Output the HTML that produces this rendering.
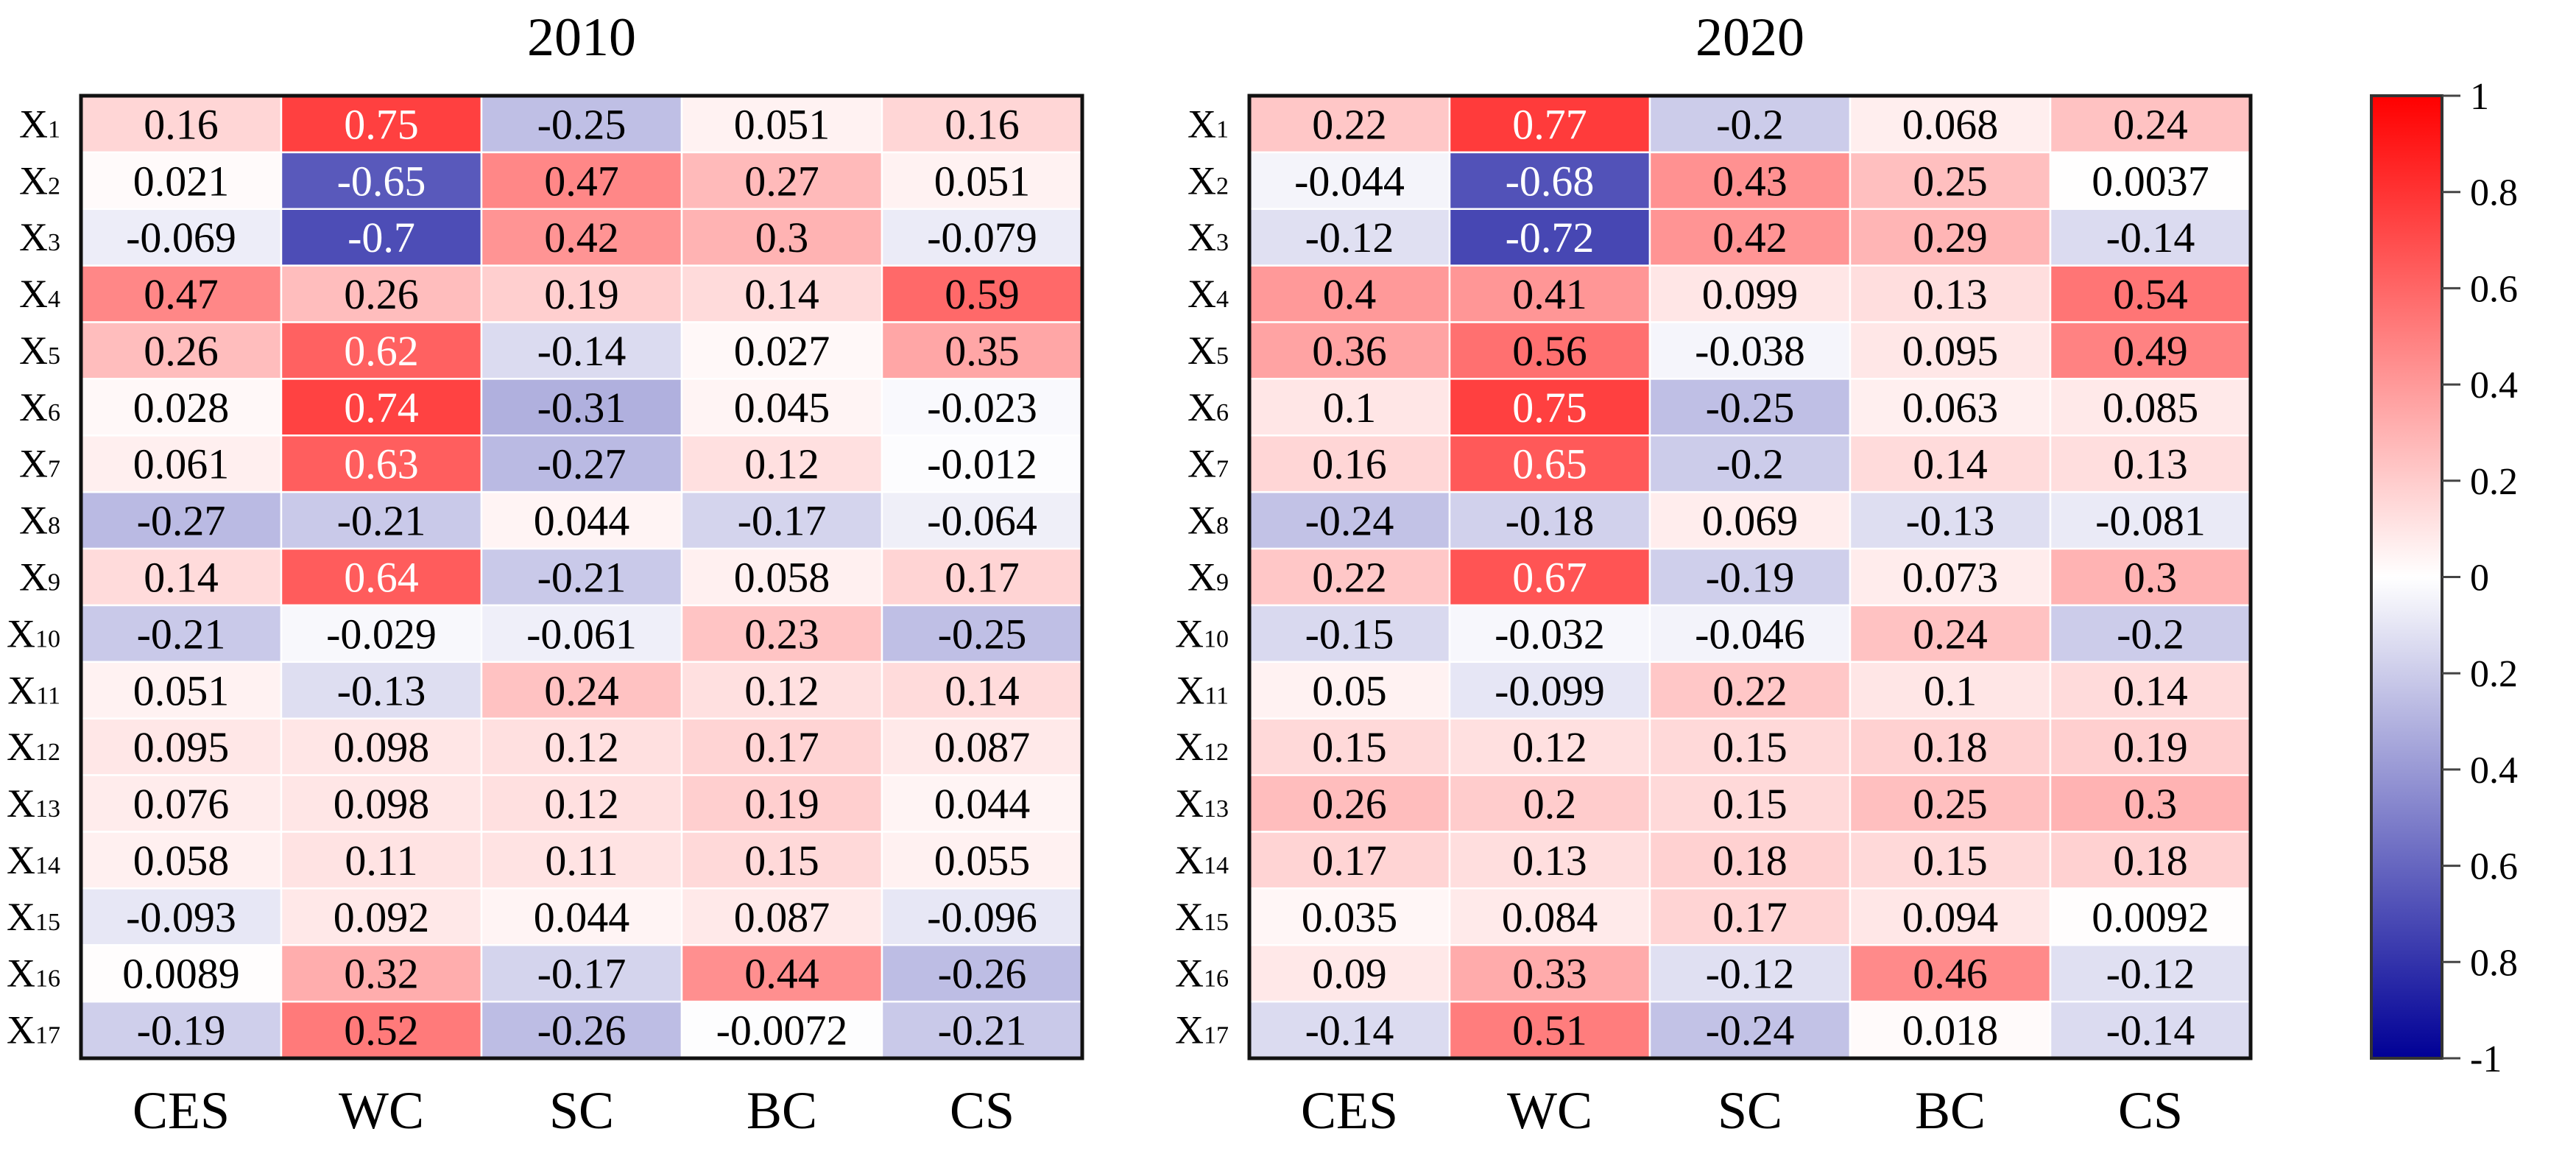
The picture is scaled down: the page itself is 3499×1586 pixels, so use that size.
<!DOCTYPE html>
<html><head><meta charset="utf-8"><style>
html,body{margin:0;padding:0;background:#fff;}
svg{display:block;}
svg text{font-family:"Liberation Serif","DejaVu Serif","Times New Roman",serif;fill:#000;}
</style></head><body>
<svg id="chart" width="3499" height="1586" viewBox="0 0 3499 1586" xmlns="http://www.w3.org/2000/svg" font-family="Liberation Serif, DejaVu Serif, serif">
<defs>
<linearGradient id="cbgrad" x1="0" y1="0" x2="0" y2="1">
<stop offset="0" stop-color="rgb(255,0,0)"/>
<stop offset="0.5" stop-color="rgb(255,255,255)"/>
<stop offset="1" stop-color="rgb(0,0,150)"/>
</linearGradient>
</defs>
<g id="root" font-family="Liberation Serif, DejaVu Serif, serif"></g>
</svg>
<script>
const columns = ["CES","WC","SC","BC","CS"];
const rowLabels = ["1","2","3","4","5","6","7","8","9","10","11","12","13","14","15","16","17"];
const values2010 = [
[0.16,0.75,-0.25,0.051,0.16],
[0.021,-0.65,0.47,0.27,0.051],
[-0.069,-0.7,0.42,0.3,-0.079],
[0.47,0.26,0.19,0.14,0.59],
[0.26,0.62,-0.14,0.027,0.35],
[0.028,0.74,-0.31,0.045,-0.023],
[0.061,0.63,-0.27,0.12,-0.012],
[-0.27,-0.21,0.044,-0.17,-0.064],
[0.14,0.64,-0.21,0.058,0.17],
[-0.21,-0.029,-0.061,0.23,-0.25],
[0.051,-0.13,0.24,0.12,0.14],
[0.095,0.098,0.12,0.17,0.087],
[0.076,0.098,0.12,0.19,0.044],
[0.058,0.11,0.11,0.15,0.055],
[-0.093,0.092,0.044,0.087,-0.096],
[0.0089,0.32,-0.17,0.44,-0.26],
[-0.19,0.52,-0.26,-0.0072,-0.21]
];
const values2020 = [
[0.22,0.77,-0.2,0.068,0.24],
[-0.044,-0.68,0.43,0.25,0.0037],
[-0.12,-0.72,0.42,0.29,-0.14],
[0.4,0.41,0.099,0.13,0.54],
[0.36,0.56,-0.038,0.095,0.49],
[0.1,0.75,-0.25,0.063,0.085],
[0.16,0.65,-0.2,0.14,0.13],
[-0.24,-0.18,0.069,-0.13,-0.081],
[0.22,0.67,-0.19,0.073,0.3],
[-0.15,-0.032,-0.046,0.24,-0.2],
[0.05,-0.099,0.22,0.1,0.14],
[0.15,0.12,0.15,0.18,0.19],
[0.26,0.2,0.15,0.25,0.3],
[0.17,0.13,0.18,0.15,0.18],
[0.035,0.084,0.17,0.094,0.0092],
[0.09,0.33,-0.12,0.46,-0.12],
[-0.14,0.51,-0.24,0.018,-0.14]
];
const colorbarTicks = [1,0.8,0.6,0.4,0.2,0,-0.2,-0.4,-0.6,-0.8,-1];
const colorbarTickLabels = ["1","0.8","0.6","0.4","0.2","0","0.2","0.4","0.6","0.8","-1"];

const NS = "http://www.w3.org/2000/svg";
const FONT = '"Liberation Serif","DejaVu Serif","Times New Roman",serif';
const root = document.getElementById("root");
function mk(tag, attrs, parent){
  const e = document.createElementNS(NS, tag);
  for (const k in attrs) e.setAttribute(k, attrs[k]);
  if (tag === "text") e.style.fontFamily = FONT;
  (parent||root).appendChild(e);
  return e;
}
function color(v){
  if (v >= 0){ const g = Math.round(255*(1-v)); return `rgb(255,${g},${g})`; }
  const a = -v; const rg = Math.round(255*(1-a)); const b = Math.round(255 - 105*a);
  return `rgb(${rg},${rg},${b})`;
}
const TOP = 130, BOTTOM = 1437;
const rowH = (BOTTOM-TOP)/rowLabels.length;
function yPos(i){ return TOP + i*rowH; }

function drawPanel(x0, x1, title, data, key){
  const g = mk("g", {});
  
  
  const colW = (x1-x0)/columns.length;
  const xPos = j => x0 + j*colW;
  const t = mk("text", {x:(x0+x1)/2, y:75, "font-size":74, "text-anchor":"middle"}, g);
  t.textContent = title;
  
  
  data.forEach((row,i)=>{
    row.forEach((v,j)=>{
      const r = mk("rect", {x:xPos(j), y:yPos(i), width:colW, height:rowH, fill:color(v), stroke:"#fff", "stroke-width":2.5}, g);
      
      
      const tx = mk("text", {x:xPos(j)+colW/2, y:yPos(i)+rowH/2+20, "font-size":58, "text-anchor":"middle"}, g);
      tx.textContent = String(v);
      if (Math.abs(v) > 0.6) tx.style.fill = "#fff";
      
      
    });
    const lab = mk("text", {x:x0-28, y:yPos(i)+rowH/2+18, "font-size":54, "text-anchor":"end"}, g);
    
    
    const a = document.createElementNS(NS,"tspan"); a.textContent = "X"; lab.appendChild(a);
    const b = document.createElementNS(NS,"tspan"); b.setAttribute("font-size","34"); b.textContent = rowLabels[i]; lab.appendChild(b);
  });
  columns.forEach((c,j)=>{
    const ct = mk("text", {x:xPos(j)+colW/2, y:1532, "font-size":72, "text-anchor":"middle"}, g);
    ct.textContent = c;
    
    
  });
  const fr = mk("rect", {x:x0, y:TOP, width:x1-x0, height:BOTTOM-TOP, fill:"none", stroke:"#111", "stroke-width":5}, g);
  
  
}
drawPanel(110, 1470, "2010", values2010, "2010");
drawPanel(1697, 3057, "2020", values2020, "2020");

const cb = mk("g", {});


const cbX0 = 3221, cbX1 = 3317;
const cbY = v => TOP + (1 - v)/2*(BOTTOM-TOP);
const cbr = mk("rect", {x:cbX0, y:TOP, width:cbX1-cbX0, height:BOTTOM-TOP, fill:"url(#cbgrad)", stroke:"#333", "stroke-width":4}, cb);


colorbarTicks.forEach((v,i)=>{
  const ln = mk("line", {x1:cbX1, x2:3342, y1:cbY(v), y2:cbY(v), stroke:"#444", "stroke-width":3}, cb);
  
  
  const tl = mk("text", {x:3355, y:cbY(v)+18, "font-size":52}, cb);
  tl.textContent = colorbarTickLabels[i];
  
  
});
</script>
</body></html>
